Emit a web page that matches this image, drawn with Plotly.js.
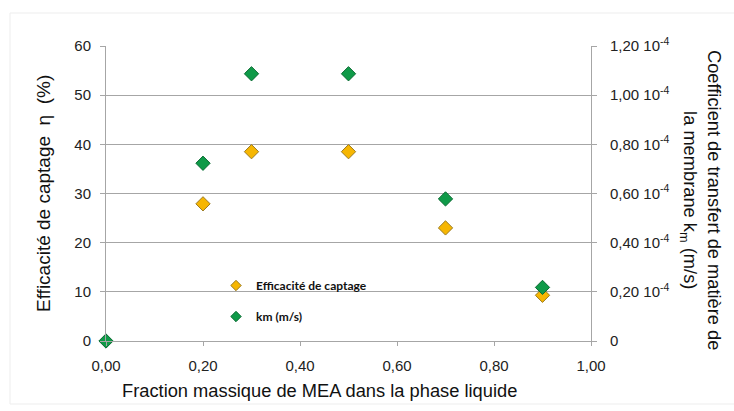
<!DOCTYPE html>
<html>
<head>
<meta charset="utf-8">
<script src="https://cdn.plot.ly/plotly-3.0.1.min.js"></script>
<style>html,body{margin:0;padding:0;background:#fff;}#chart{width:734px;height:411px;}</style>
</head>
<body>
<div id="chart"></div>
<script>
// Data
const fractionMEA = [0.0, 0.2, 0.3, 0.5, 0.7, 0.9];
const efficaciteX = [0.2, 0.3, 0.5, 0.7, 0.9];
const efficaciteY = [27.9, 38.5, 38.5, 23.0, 9.3];
const km = [0, 0.723e-4, 1.087e-4, 1.087e-4, 0.578e-4, 0.218e-4];
const xTicks = [0, 0.2, 0.4, 0.6, 0.8, 1.0];
const y2TickVals = [0, 0.2e-4, 0.4e-4, 0.6e-4, 0.8e-4, 1.0e-4, 1.2e-4];
const y2TickText = ['0', '0,20 10<sup>-4</sup>', '0,40 10<sup>-4</sup>', '0,60 10<sup>-4</sup>', '0,80 10<sup>-4</sup>', '1,00 10<sup>-4</sup>', '1,20 10<sup>-4</sup>'];
const seriesNames = ['Efficacité de captage', 'km (m/s)'];
const xTitle = 'Fraction massique de MEA dans la phase liquide';
const yTitle = 'Efficacité de captage \u00a0η\u00a0 (%)';
const y2Title = 'Coefficient de transfert de matière de<br>la membrane k<sub>m</sub> (m/s)';

const W = 734, H = 411, L = 106, R = 591, T = 46, B = 341;
const px = x => (x - L) / (R - L);
const py = y => (B - y) / (B - T);

const axisFont = {family: 'Liberation Sans, Arial, sans-serif', size: 15, color: '#222'};
const titleFont = {family: 'Liberation Sans, Arial, sans-serif', size: 18.3, color: '#111'};
const yTitleFont = {family: 'Liberation Sans, Arial, sans-serif', size: 19, color: '#111'};

const orangeMarker = {symbol: 'diamond', color: '#f6b602', line: {color: '#9a7a22', width: 1}};
const greenMarker = {symbol: 'diamond', color: '#0f9a48', line: {color: '#0a6a32', width: 1}};

const traces = [
  {
    x: efficaciteX, y: efficaciteY, name: seriesNames[0], type: 'scatter', mode: 'markers',
    cliponaxis: false, showlegend: false,
    marker: Object.assign({size: 11}, orangeMarker)
  },
  {
    x: fractionMEA, y: km, name: seriesNames[1], type: 'scatter', mode: 'markers', yaxis: 'y2',
    cliponaxis: false, showlegend: false,
    marker: Object.assign({size: 11}, greenMarker)
  },
  // legend entries (smaller symbols, as in the reference legend)
  {
    x: [null], y: [null], name: seriesNames[0], type: 'scatter', mode: 'markers',
    legendgroup: 'a', marker: Object.assign({size: 8}, orangeMarker)
  },
  {
    x: [null], y: [null], name: seriesNames[1], type: 'scatter', mode: 'markers', yaxis: 'y2',
    legendgroup: 'b', marker: Object.assign({size: 8}, greenMarker)
  }
];

const layout = {
  width: W, height: H,
  margin: {l: L, r: W - R, t: T, b: H - B, pad: 0},
  paper_bgcolor: '#fff', plot_bgcolor: '#fff',
  separators: ', ',
  showlegend: true,
  xaxis: {
    range: [0, 1], tickvals: xTicks, tickformat: '.2f',
    showgrid: false, zeroline: false,
    showline: true, linecolor: '#a6a6a6', linewidth: 1,
    ticks: 'outside', ticklen: 4, tickcolor: '#a6a6a6',
    ticklabelstandoff: 7,
    tickfont: axisFont, fixedrange: true
  },
  yaxis: {
    range: [0, 60], dtick: 10, tick0: 0,
    showgrid: true, gridcolor: '#a6a6a6', gridwidth: 1,
    zeroline: false, showline: true, linecolor: '#a6a6a6', linewidth: 1,
    ticks: 'outside', ticklen: 5, tickcolor: '#a6a6a6',
    ticklabelstandoff: 6,
    tickfont: axisFont, fixedrange: true
  },
  yaxis2: {
    range: [0, 1.2e-4], overlaying: 'y', side: 'right',
    tickvals: y2TickVals, ticktext: y2TickText,
    showgrid: false, zeroline: false, showline: true, linecolor: '#a6a6a6', linewidth: 1,
    ticks: 'outside', ticklen: 5, tickcolor: '#a6a6a6',
    ticklabelstandoff: 10,
    tickfont: axisFont, fixedrange: true
  },
  legend: {
    x: px(216), y: py(271), xanchor: 'left', yanchor: 'top',
    bgcolor: 'rgba(0,0,0,0)', borderwidth: 0,
    font: {family: 'Lato, Carlito, Calibri, sans-serif', size: 12, color: '#111', weight: 'bold'},
    tracegroupgap: 12, itemwidth: 30
  },
  shapes: [
    {type: 'rect', xref: 'paper', yref: 'paper', layer: 'between',
     x0: px(216), x1: px(395), y0: py(330), y1: py(270),
     fillcolor: '#fff', line: {width: 0}},
    {type: 'rect', xref: 'paper', yref: 'paper', layer: 'below',
     x0: px(10), x1: px(745), y0: py(404), y1: py(13),
     fillcolor: 'rgba(0,0,0,0)', line: {color: '#ededed', width: 1}}
  ],
  annotations: [
    {xref: 'paper', yref: 'paper', x: px(319), y: py(390), xanchor: 'center', yanchor: 'middle',
     showarrow: false, font: titleFont, text: xTitle},
    {xref: 'paper', yref: 'paper', x: px(43), y: py(194), xanchor: 'center', yanchor: 'middle',
     textangle: -90, showarrow: false, font: yTitleFont, text: yTitle},
    {xref: 'paper', yref: 'paper', x: px(701), y: py(200), xanchor: 'center', yanchor: 'middle',
     textangle: 90, showarrow: false, align: 'center', font: titleFont, text: y2Title}
  ]
};

Plotly.newPlot('chart', traces, layout, {displayModeBar: false, staticPlot: true});
</script>
</body>
</html>
